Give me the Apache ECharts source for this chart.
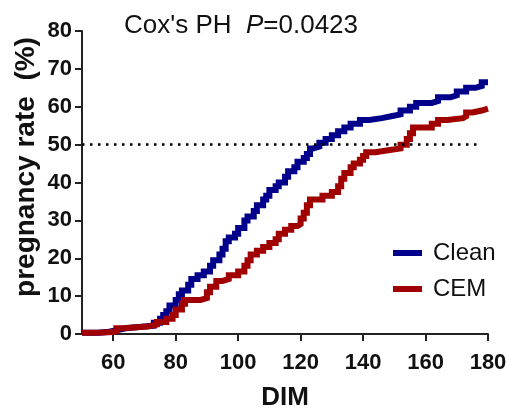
<!DOCTYPE html>
<html>
<head>
<meta charset="utf-8">
<script src="https://cdn.jsdelivr.net/npm/echarts@6/dist/echarts.min.js"></script>
<style>html,body{margin:0;padding:0;background:#fff}#c{width:508px;height:409px}</style>
</head>
<body>
<div id="c"></div>
<script>
// DIM at which each step occurs and cumulative pregnancy rate (%)
const cleanDIM = [50,55,58,61,64,70,73,75,76,77,78,80,81,82,84,85,87,89,91,92,94,95,96,97,99,100,102,103,105,106,108,109,110,112,113,115,116,118,119,121,122,123,124,126,128,130,132,134,136,139,142,146,149,152,155,157,162,164,168,170,173,176,178,180];
const cleanRate = [0.3,0.5,1,1.5,2,2.2,3,4,5,6,7.5,9,10.5,11.5,13,14.5,15.5,16.5,18,19.5,21,22.5,24.5,25.5,26.5,28,30,31,32.5,34,35.5,36.5,38,39,40,41.5,43,44,45.5,46.5,47.5,49,49.5,50.5,51.5,52.5,53.5,54.5,55.5,56.5,57,57.5,58,59,60,61,61.5,62.5,63,64,65,65.5,66.5,66.5];
const cemDIM = [50,55,60,61,63,71,74,77,79,80,82,83,88,90,91,93,95,97,100,102,103,104,106,108,110,112,113,115,117,119,120,121,122,123,127,130,132,133,134,136,137,139,140,141,144,148,152,154,155,156,162,164,167,172,173,175,178,180];
const cemRate = [0.3,0.5,0.7,1.5,2,2.5,3.2,4,5,6.5,8,9,9.5,11,12.5,14,14.5,15.5,16.5,18,19.5,21,22,23,24,25,26.5,27.5,28.5,29,30.5,32,34,35.5,36.5,37.5,39,41,42.5,44,45,46,47,48,48.5,49,50,51.5,53,54.5,55.5,56.5,57,57.5,58.5,59,59.5,59.5];
const seriesNames = ['Clean', 'CEM'];
const xTicks = [60,80,100,120,140,160,180];
const refLineY = 50;
const refLineX = [50, 178];
const yTitle = 'pregnancy rate  (%)';

const pair = (xs, ys) => xs.map((x, i) => [x, ys[i]]);
const FF = 'Liberation Sans, Arial, sans-serif';

const chart = echarts.init(document.getElementById('c'), null, {renderer: 'canvas'});
chart.setOption({
  animation: false,
  backgroundColor: '#fff',
  title: {
    left: 119, top: 8,
    text: "Cox's PH  {i|P}=0.0423",
    textStyle: {
      fontFamily: FF, fontSize: 26, fontWeight: 'normal', color: '#111',
      rich: { i: { fontFamily: FF, fontSize: 26, fontStyle: 'italic', color: '#111' } }
    }
  },
  graphic: [{
    type: 'text', x: 26, y: 167, rotation: Math.PI / 2,
    style: { text: yTitle, fontFamily: FF, fontSize: 28, fontWeight: 'bold', fill: '#111', align: 'center', verticalAlign: 'middle' }
  }],
  legend: {
    orient: 'vertical', left: 388, top: 236,
    itemWidth: 29, itemHeight: 6, itemGap: 12,
    icon: 'rect',
    textStyle: { fontFamily: FF, fontSize: 24, color: '#111', padding: [0,0,0,6] },
    data: seriesNames
  },
  grid: { left: 82, right: 20, top: 31, bottom: 75, containLabel: false, outerBoundsMode: 'none' },
  xAxis: {
    type: 'value', min: 50, max: 180,
    name: 'DIM', nameLocation: 'middle', nameGap: 51,
    nameTextStyle: { fontFamily: FF, fontSize: 26, fontWeight: 'bold', color: '#111' },
    axisLine: { show: true, onZero: false, lineStyle: { color: '#222', width: 2 } },
    axisTick: { show: true, length: 7, lineStyle: { color: '#222', width: 2 }, customValues: xTicks },
    axisLabel: { margin: 18, fontFamily: FF, fontSize: 22, fontWeight: 'bold', color: '#111', customValues: xTicks },
    splitLine: { show: false }
  },
  yAxis: {
    type: 'value', min: 0, max: 80, interval: 10,
    axisLine: { show: true, lineStyle: { color: '#222', width: 2 } },
    axisTick: { show: true, length: 7, lineStyle: { color: '#222', width: 2 } },
    axisLabel: { margin: 10, fontFamily: FF, fontSize: 22, fontWeight: 'bold', color: '#111' },
    splitLine: { show: false }
  },
  series: [
    {
      name: seriesNames[0], type: 'line', step: 'end', showSymbol: false, symbol: 'none',
      data: pair(cleanDIM, cleanRate),
      lineStyle: { color: '#00008B', width: 6, cap: 'butt', join: 'miter' }, itemStyle: { color: '#00008B' },
      markLine: {
        silent: true, symbol: ['none','none'], label: { show: false },
        lineStyle: { type: [2.5, 5.5], color: '#000', width: 2.5 },
        data: [[{ coord: [refLineX[0], refLineY] }, { coord: [refLineX[1], refLineY] }]]
      },
      z: 2
    },
    {
      name: seriesNames[1], type: 'line', step: 'end', showSymbol: false, symbol: 'none',
      data: pair(cemDIM, cemRate),
      lineStyle: { color: '#A00000', width: 6, cap: 'butt', join: 'miter' }, itemStyle: { color: '#A00000' },
      z: 3
    }
  ]
});
</script>
</body>
</html>
